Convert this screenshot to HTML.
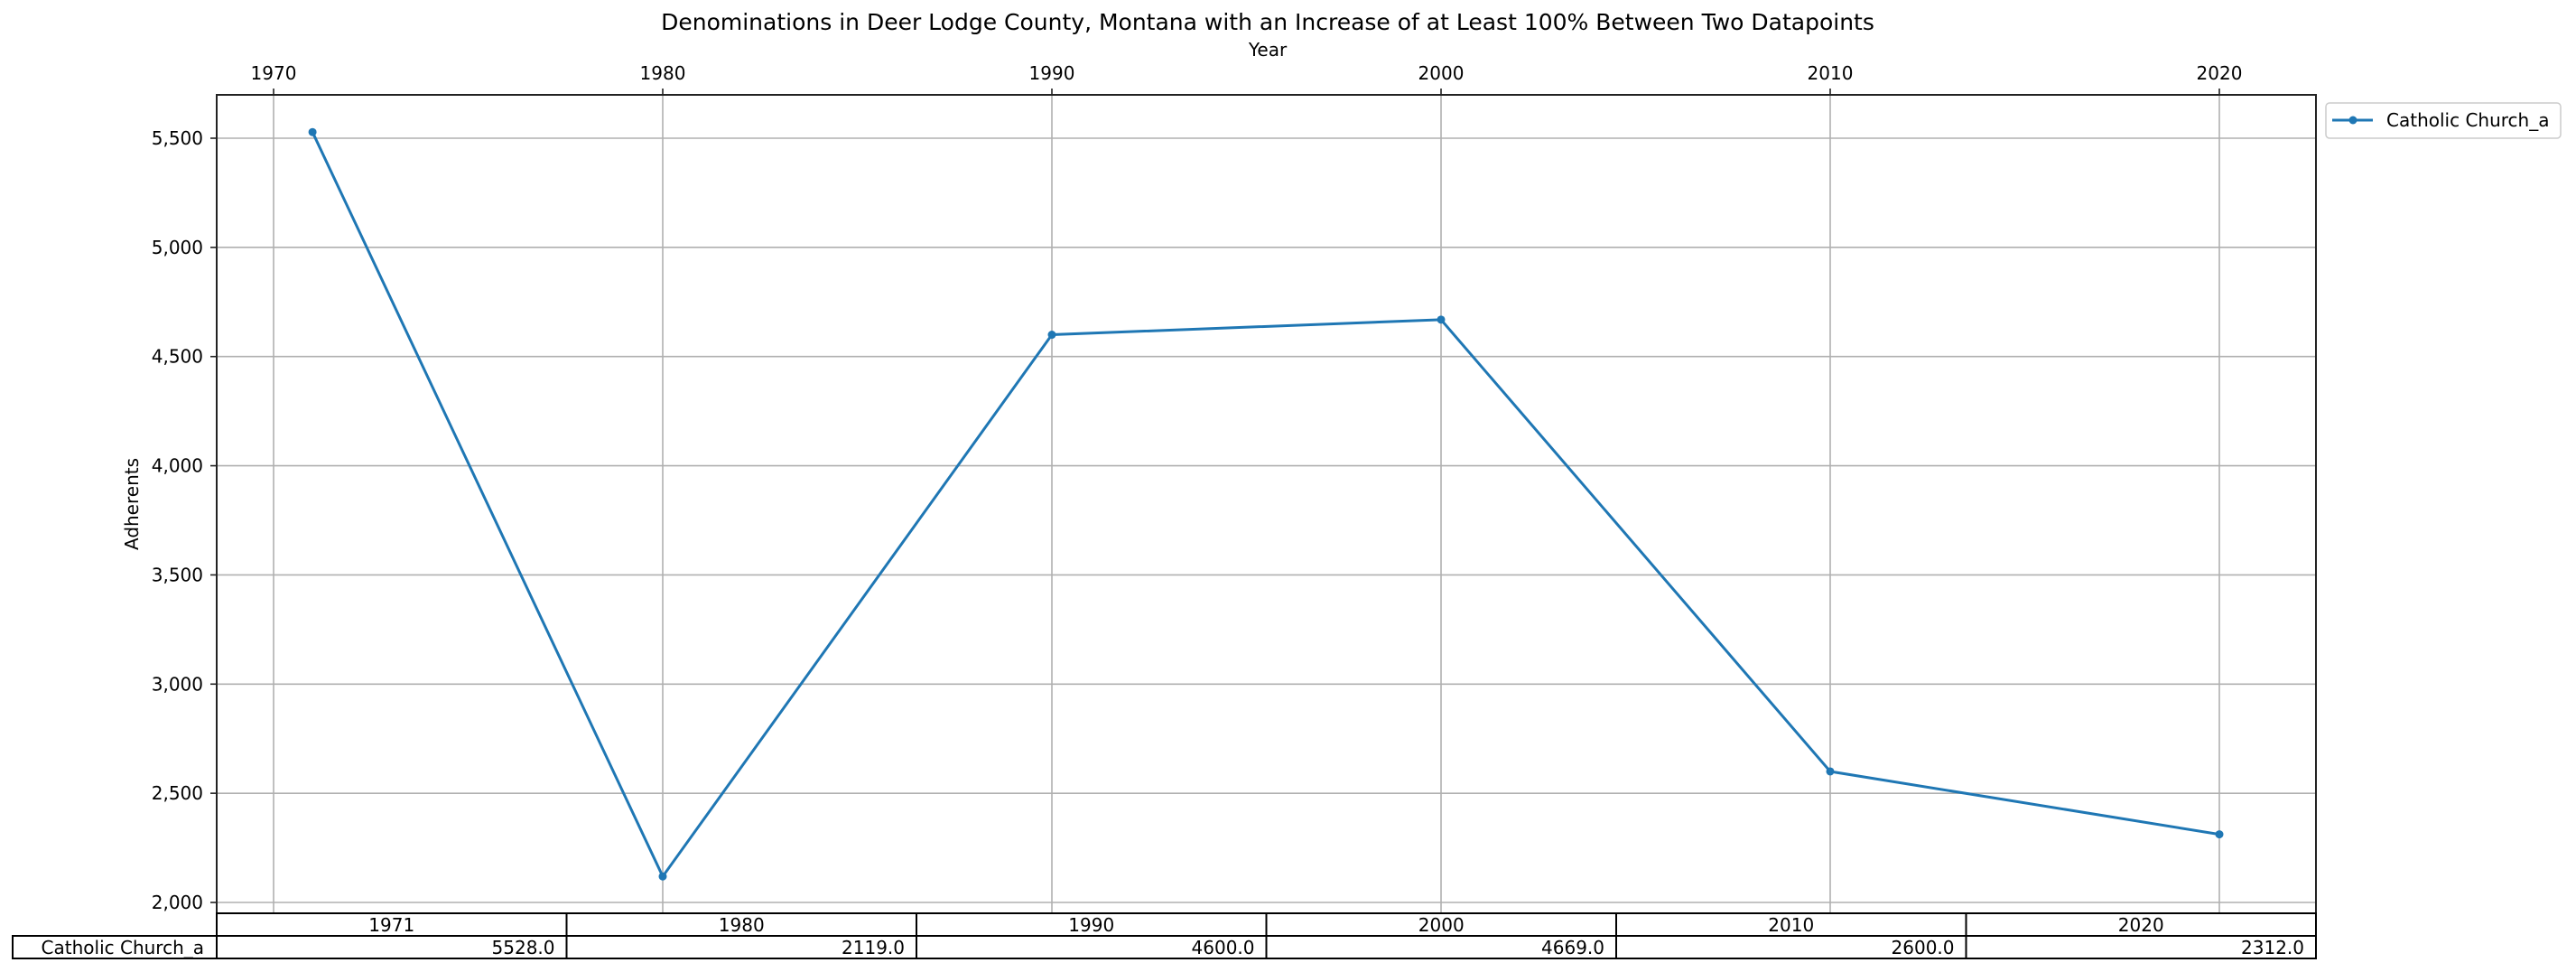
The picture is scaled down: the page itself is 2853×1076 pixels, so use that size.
<!DOCTYPE html>
<html><head><meta charset="utf-8"><style>
html,body{margin:0;padding:0;background:#fff;}
svg{display:block;font-family:"DejaVu Sans","Liberation Sans",sans-serif;}
</style></head><body>
<svg id="chart" width="2853" height="1076" viewBox="0 0 2853 1076" xmlns="http://www.w3.org/2000/svg">
<rect width="2853" height="1076" fill="#fff"/>
<text x="1404" y="33" font-size="25" text-anchor="middle">Denominations in Deer Lodge County, Montana with an Increase of at Least 100% Between Two Datapoints</text>
<text x="1404" y="62" font-size="20" text-anchor="middle">Year</text>
<text transform="translate(153,558) rotate(-90)" font-size="20" text-anchor="middle">Adherents</text>
<g id="grid"></g>
<g id="ticks"></g>
<g id="series"></g>
<rect x="240" y="105" width="2325" height="906" fill="none" stroke="#222" stroke-width="2"/>
<g id="table"></g>
<g>
<rect x="2576" y="114" width="260" height="39" rx="4" fill="#fff" stroke="#ccc" stroke-width="1.5"/>
<line x1="2583" y1="133" x2="2628" y2="133" stroke="#1f77b4" stroke-width="3"/>
<circle cx="2606" cy="133" r="4.5" fill="#1f77b4"/>
<text x="2643" y="140" font-size="20">Catholic Church_a</text>
</g>
</svg>
<script>
const years = [1971, 1980, 1990, 2000, 2010, 2020];
const values = [5528, 2119, 4600, 4669, 2600, 2312];
const xTicks = [1970, 1980, 1990, 2000, 2010, 2020];
const yTicks = [2000, 2500, 3000, 3500, 4000, 4500, 5000, 5500];
const seriesName = "Catholic Church_a";

const NS = "http://www.w3.org/2000/svg";
const L = 240, R = 2565, T = 105, B = 1011;
function xs(v){ return 303 + (v - 1970) * 43.1; }
function ys(v){ return 999 - (v - 2000) * (846 / 3500); }
function mk(tag, attrs, parent){
  const e = document.createElementNS(NS, tag);
  for (const k in attrs) e.setAttribute(k, attrs[k]);
  parent.appendChild(e); return e;
}
const grid = document.getElementById('grid');
const ticks = document.getElementById('ticks');
xTicks.forEach(t => {
  const x = xs(t);
  const g = mk('line', {x1:x, x2:x, y1:T, y2:B, stroke:'#b0b0b0', 'stroke-width':1.6}, grid);
  
  
  const tk = mk('line', {x1:x, x2:x, y1:T-7, y2:T, stroke:'#222', 'stroke-width':1.6}, ticks);
  
  
  const lb = mk('text', {x:x, y:88, 'font-size':20, 'text-anchor':'middle'}, ticks);
  lb.textContent = t;
  
  
});
yTicks.forEach(t => {
  const y = ys(t);
  const g = mk('line', {x1:L, x2:R, y1:y, y2:y, stroke:'#b0b0b0', 'stroke-width':1.6}, grid);
  
  
  const tk = mk('line', {x1:L-7, x2:L, y1:y, y2:y, stroke:'#222', 'stroke-width':1.6}, ticks);
  
  
  const lb = mk('text', {x:225, y:y+7, 'font-size':20, 'text-anchor':'end'}, ticks);
  lb.textContent = t.toLocaleString('en-US');
  
  
});
const series = document.getElementById('series');
const pts = years.map((y,i) => xs(y).toFixed(1) + ',' + ys(values[i]).toFixed(1)).join(' ');
const pl = mk('polyline', {points:pts, fill:'none', stroke:'#1f77b4', 'stroke-width':3}, series);


years.forEach((y,i) => {
  const c = mk('circle', {cx:xs(y), cy:ys(values[i]), r:4.5, fill:'#1f77b4'}, series);
  
  
});
const tbl = document.getElementById('table');
const cw = (R - L) / years.length;
const r1t = 1011, r1b = 1036, r2b = 1061;
years.forEach((y,i) => {
  const x0 = L + i*cw;
  const h = mk('rect', {x:x0, y:r1t, width:cw, height:r1b-r1t, fill:'#fff', stroke:'#000', 'stroke-width':2}, tbl);
  
  
  const ht = mk('text', {x:x0+cw/2, y:r1b-5, 'font-size':20, 'text-anchor':'middle'}, tbl);
  ht.textContent = y;
  
  
  const c = mk('rect', {x:x0, y:r1b, width:cw, height:r2b-r1b, fill:'#fff', stroke:'#000', 'stroke-width':2}, tbl);
  
  
  const ct = mk('text', {x:x0+cw-13, y:r2b-5, 'font-size':20, 'text-anchor':'end'}, tbl);
  ct.textContent = values[i].toFixed(1);
  
  
});
const rl = mk('rect', {x:14, y:r1b, width:L-14, height:r2b-r1b, fill:'#fff', stroke:'#000', 'stroke-width':2}, tbl);


const rt = mk('text', {x:L-14, y:r2b-5, 'font-size':20, 'text-anchor':'end'}, tbl);
rt.textContent = seriesName;


</script>
</body></html>
